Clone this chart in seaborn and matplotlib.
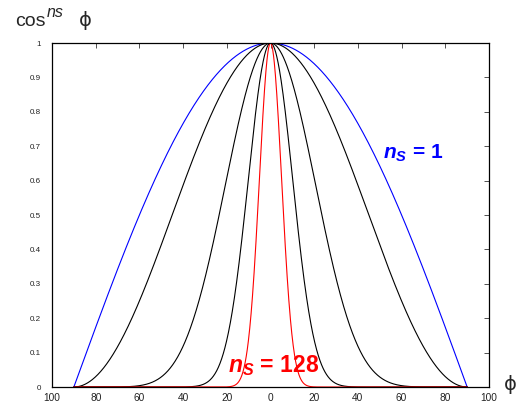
import numpy as np
import pandas as pd
import matplotlib
matplotlib.use("Agg")
import matplotlib.pyplot as plt
import seaborn as sns

# exponents n_s of the plotted curves cos^n(phi)
exponents = [1, 2, 8, 32, 128]
curve_colors = ["blue", "black", "black", "black", "red"]
phi_deg = np.linspace(-90, 90, 1441)
xtick_vals = [-100, -80, -60, -40, -20, 0, 20, 40, 60, 80, 100]
xtick_labels = ["100", "80", "60", "40", "20", "0", "20", "40", "60", "80", "100"]
ytick_vals = [0, 0.1, 0.2, 0.3, 0.4, 0.5, 0.6, 0.7, 0.8, 0.9, 1.0]
ytick_labels = ["0", "0.1", "0.2", "0.3", "0.4", "0.5", "0.6", "0.7", "0.8", "0.9", "1"]

rows = []
for n in exponents:
    vals = np.cos(np.deg2rad(phi_deg)) ** n
    rows.append(pd.DataFrame({"phi": phi_deg, "value": vals, "n": n}))
df = pd.concat(rows, ignore_index=True)

sns.set_style("white")
plt.rcParams["font.family"] = ["Liberation Sans", "DejaVu Sans"]
plt.rcParams["mathtext.fontset"] = "custom"
plt.rcParams["mathtext.rm"] = "Liberation Sans"
plt.rcParams["mathtext.it"] = "Liberation Sans:italic"
plt.rcParams["mathtext.bf"] = "Liberation Sans:bold"
plt.rcParams["mathtext.bfit"] = "Liberation Sans:bold:italic"

fig = plt.figure(figsize=(5.19, 4.05), dpi=100)
ax = fig.add_axes([52 / 519, 18 / 405, 437 / 519, 344 / 405])

palette = dict(zip(exponents, curve_colors))
sns.lineplot(data=df, x="phi", y="value", hue="n", palette=palette,
             hue_order=exponents, legend=False, linewidth=0.8, ax=ax,
             estimator=None, sort=False)

ax.set_xlim(-100, 100)
ax.set_ylim(0, 1)
ax.set_xticks(xtick_vals)
ax.set_xticklabels(xtick_labels, fontsize=7.3, color="#222222")
ax.set_yticks(ytick_vals)
ax.set_yticklabels(ytick_labels, fontsize=5.8, color="#222222")
ax.tick_params(axis="both", direction="in", length=3.5, width=0.6,
               top=True, right=True, color="#333333")
ax.tick_params(axis="x", pad=4)
ax.tick_params(axis="y", pad=8)
for sp in ax.spines.values():
    sp.set_visible(True)
    sp.set_color("black")
    sp.set_linewidth(0.9)
ax.set_xlabel("")
ax.set_ylabel("")

# y-axis label "cos^{ns} phi" at top-left
fig.text(15 / 519, 1 - 26 / 405, "cos", fontsize=14, ha="left", va="baseline")
fig.text(47 / 519, 1 - 17 / 405, "ns", fontsize=11.5, style="italic",
         ha="left", va="baseline")
fig.text(85 / 519, 1 - 21 / 405, "ϕ", fontsize=14, ha="center", va="center",
         family=["DejaVu Sans"])
# x-axis label
fig.text(510 / 519, 1 - 385 / 405, "ϕ", fontsize=14, ha="center", va="center",
         family=["DejaVu Sans"])

ax.text(51.5, 0.665, r"$\mathbfit{n}_{\mathbfit{S}}$ = 1", color="blue",
        fontsize=15, fontweight="bold", ha="left", va="baseline")
ax.text(-19.5, 0.044, r"$\mathbfit{n}_{\mathbfit{S}}$ = 128", color="red",
        fontsize=16.5, fontweight="bold", ha="left", va="baseline")

fig.savefig("out.png", dpi=100)
